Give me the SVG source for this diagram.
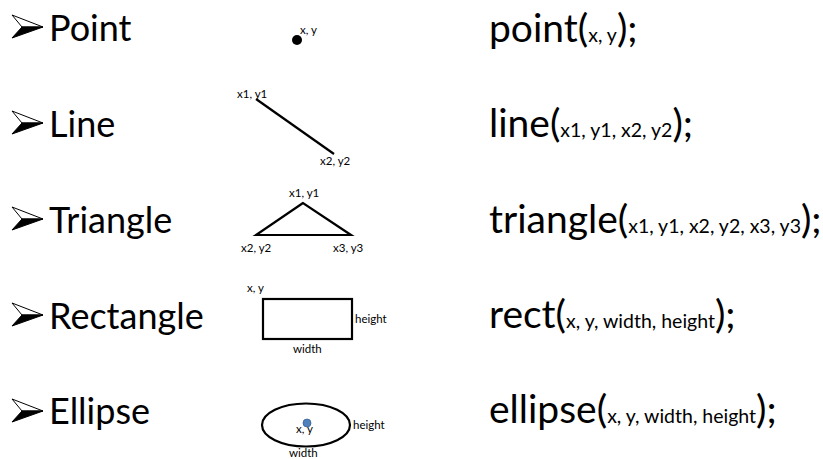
<svg xmlns="http://www.w3.org/2000/svg" width="823" height="459" viewBox="0 0 823 459">
<style>
.lbl{font-family:Lato,"Open Sans","Liberation Sans",sans-serif;font-size:36px;fill:#000}
.code{font-family:Lato,"Open Sans","Liberation Sans",sans-serif;font-size:39px;fill:#000}
.arg{font-size:19.5px}
.sm{font-family:Lato,"Open Sans","Liberation Sans",sans-serif;font-size:11.5px;fill:#000}
.shape{fill:none;stroke:#000;stroke-width:2.2}
</style>
<defs>
<g id="bullet">
<polygon points="0,0 31,12 10,12" fill="#fff" stroke="#000" stroke-width="1"/>
<polygon points="10,12 31,12 0,23" fill="#000" stroke="#000" stroke-width="1"/>
</g>
</defs>
<g id="row-point">
<use href="#bullet" x="12" y="15"/>
<text class="lbl" x="49" y="41">Point</text>
<circle cx="297" cy="40" r="5" fill="#000"/>
<text class="sm" x="300" y="34">x, y</text>
<text class="code" x="489" y="42">point(<tspan class="arg">x, y</tspan>);</text>
</g>
<g id="row-line">
<use href="#bullet" x="12" y="111"/>
<text class="lbl" x="49" y="137">Line</text>
<line class="shape" x1="256" y1="99" x2="334" y2="154"/>
<text class="sm" x="237" y="98">x1, y1</text>
<text class="sm" x="320" y="165">x2, y2</text>
<text class="code" x="489" y="137">line(<tspan class="arg">x1, y1, x2, y2</tspan>);</text>
</g>
<g id="row-triangle">
<use href="#bullet" x="12" y="207"/>
<text class="lbl" x="49" y="233">Triangle</text>
<polygon class="shape" points="303,203 256,235 351,235"/>
<text class="sm" x="289" y="197">x1, y1</text>
<text class="sm" x="241" y="252">x2, y2</text>
<text class="sm" x="333" y="252">x3, y3</text>
<text class="code" x="489" y="233">triangle(<tspan class="arg">x1, y1, x2, y2, x3, y3</tspan>);</text>
</g>
<g id="row-rect">
<use href="#bullet" x="12" y="303"/>
<text class="lbl" x="49" y="329">Rectangle</text>
<rect class="shape" x="263" y="299" width="89" height="40"/>
<text class="sm" x="247" y="292">x, y</text>
<text class="sm" x="355" y="323">height</text>
<text class="sm" x="293" y="353">width</text>
<text class="code" x="489" y="328">rect(<tspan class="arg">x, y, width, height</tspan>);</text>
</g>
<g id="row-ellipse">
<use href="#bullet" x="12" y="399"/>
<text class="lbl" x="49" y="424">Ellipse</text>
<ellipse class="shape" cx="306" cy="425" rx="44" ry="21.5" stroke-width="2.5"/>
<text class="sm" x="296" y="433">x, y</text>
<circle cx="307" cy="423" r="4" fill="#4f81bd" stroke="#3a6496" stroke-width="0.8"/>
<text class="sm" x="353" y="429">height</text>
<text class="sm" x="289" y="457">width</text>
<text class="code" x="489" y="423">ellipse(<tspan class="arg">x, y, width, height</tspan>);</text>
</g>
</svg>
